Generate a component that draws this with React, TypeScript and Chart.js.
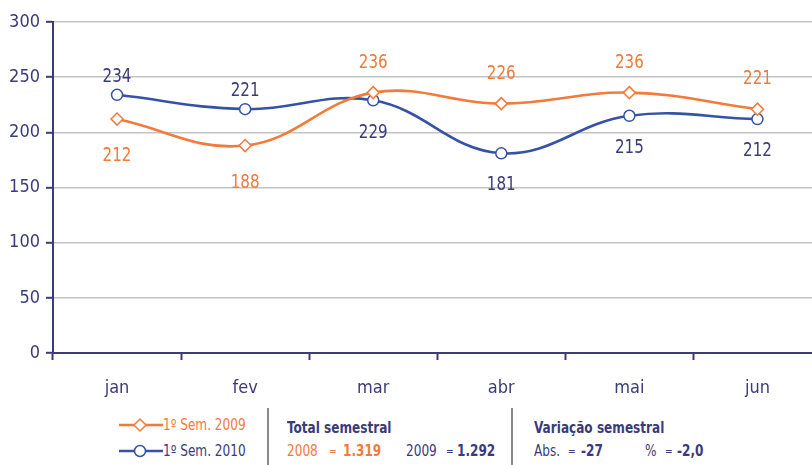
import React, { useEffect, useRef } from "react";
import { Chart, registerables } from "chart.js";

Chart.register(...registerables);

const months = ["jan", "fev", "mar", "abr", "mai", "jun"];
const sem2009 = [212, 188, 236, 226, 236, 221];
const sem2010 = [234, 221, 229, 181, 215, 212];
const yTicks = [0, 50, 100, 150, 200, 250, 300];

const NAVY = "#3b3b7a";
const ORANGE = "#f27a3a";
const BLUE = "#3552a6";
const FONT = "'DejaVu Sans Condensed', 'DejaVu Sans', sans-serif";

const labelPlugin = {
  id: "pointLabels",
  afterDatasetsDraw(chart: any) {
    const ctx = chart.ctx;
    const ds = chart.data.datasets;
    ctx.save();
    ctx.font = `20px ${FONT}`;
    ctx.textAlign = "center";
    ctx.textBaseline = "middle";
    ds.forEach((d: any, di: number) => {
      const meta = chart.getDatasetMeta(di);
      const other = ds[1 - di].data as number[];
      meta.data.forEach((pt: any, i: number) => {
        const v = d.data[i] as number;
        const above = v >= other[i];
        let off: number;
        if (di === 0) off = above ? -30 : 37;
        else off = above ? -18 : 32;
        ctx.save();
        ctx.translate(pt.x, pt.y + off);
        ctx.scale(0.84, 1);
        ctx.fillStyle = d.labelColor;
        ctx.fillText(String(v), 0, 0);
        ctx.restore();
      });
    });
    ctx.restore();
  },
};

function App() {
  const ref = useRef<HTMLCanvasElement | null>(null);
  useEffect(() => {
    if (!ref.current) return;
    const chart = new Chart(ref.current, {
      type: "line",
      data: {
        labels: months,
        datasets: [
          {
            label: "1º Sem. 2009",
            data: sem2009,
            borderColor: ORANGE,
            backgroundColor: "#ffffff",
            borderWidth: 2.6,
            tension: 0.4,
            pointStyle: "rectRot",
            pointRadius: 6,
            pointBorderWidth: 1.5,
            pointBackgroundColor: "#ffffff",
            pointBorderColor: ORANGE,
            labelColor: ORANGE,
          } as any,
          {
            label: "1º Sem. 2010",
            data: sem2010,
            borderColor: BLUE,
            backgroundColor: "#ffffff",
            borderWidth: 2.6,
            tension: 0.4,
            pointStyle: "circle",
            pointRadius: 5.5,
            pointBorderWidth: 1.5,
            pointBackgroundColor: "#ffffff",
            pointBorderColor: BLUE,
            labelColor: NAVY,
          } as any,
        ],
      },
      options: {
        animation: false,
        responsive: false,
        maintainAspectRatio: false,
        layout: { padding: { top: 22, right: 0, bottom: 0, left: 0 } },
        plugins: { legend: { display: false }, tooltip: { enabled: false } },
        scales: {
          x: {
            offset: true,
            grid: {
              offset: true,
              drawOnChartArea: false,
              drawTicks: true,
              tickLength: 7,
              tickColor: NAVY,
              tickWidth: 2,
            },
            border: { color: NAVY, width: 2 },
            ticks: {
              color: NAVY,
              font: { family: FONT, size: 18 },
              padding: 18,
            },
            afterFit(scale: any) {
              scale.height = 52;
              scale.paddingLeft = 0;
              scale.paddingRight = 0;
            },
          },
          y: {
            min: 0,
            max: 300,
            afterBuildTicks(scale: any) {
              scale.ticks = yTicks.map((v) => ({ value: v }));
            },
            grid: {
              color: "#c4c4c4",
              lineWidth: 1.6,
              drawTicks: true,
              tickLength: 7,
              tickColor: NAVY,
              tickWidth: 2,
            },
            border: { color: NAVY, width: 2 },
            ticks: {
              color: NAVY,
              font: { family: FONT, size: 18 },
              padding: 6,
            },
            afterFit(scale: any) {
              scale.width = 53;
            },
          },
        },
      },
      plugins: [labelPlugin],
    });
    return () => chart.destroy();
  }, []);

  const txt: React.CSSProperties = {
    position: "absolute",
    fontFamily: FONT,
    fontSize: 16,
    whiteSpace: "nowrap",
    lineHeight: "18px",
    transform: "scaleX(0.84)",
    transformOrigin: "left center",
  };
  const eq: React.CSSProperties = { ...txt, fontSize: 12 };

  return (
    <div
      style={{
        position: "absolute",
        left: 0,
        top: 0,
        width: 812,
        height: 465,
        overflow: "hidden",
        background: "#ffffff",
      }}
    >
      <canvas ref={ref} width={829} height={405} style={{ position: "absolute", left: 0, top: 0, width: 829, height: 405 }} />
      <svg style={{ position: "absolute", left: 118, top: 416 }} width={46} height={44}>
        <line x1={1} y1={9} x2={45} y2={9} stroke={ORANGE} strokeWidth={2.6} />
        <polygon points="22,3 28,9 22,15 16,9" fill="#fff" stroke={ORANGE} strokeWidth={1.5} />
        <line x1={1} y1={35} x2={45} y2={35} stroke={BLUE} strokeWidth={2.6} />
        <circle cx={22} cy={35} r={5.5} fill="#fff" stroke={BLUE} strokeWidth={1.5} />
      </svg>
      <div style={{ ...txt, left: 163, top: 416, color: ORANGE }}>1º Sem. 2009</div>
      <div style={{ ...txt, left: 163, top: 442, color: NAVY }}>1º Sem. 2010</div>
      <div style={{ position: "absolute", left: 267, top: 408, width: 2, height: 57, background: "#8a8a8a" }} />
      <div style={{ ...txt, left: 287, top: 419, color: NAVY, fontWeight: "bold" }}>Total semestral</div>
      <div style={{ ...txt, left: 287, top: 442, color: ORANGE }}>2008</div>
      <div style={{ ...eq, left: 329, top: 442, color: ORANGE }}>=</div>
      <div style={{ ...txt, left: 343, top: 442, color: ORANGE, fontWeight: "bold" }}>1.319</div>
      <div style={{ ...txt, left: 406, top: 442, color: NAVY }}>2009</div>
      <div style={{ ...eq, left: 446, top: 442, color: NAVY }}>=</div>
      <div style={{ ...txt, left: 457, top: 442, color: NAVY, fontWeight: "bold" }}>1.292</div>
      <div style={{ position: "absolute", left: 511, top: 408, width: 2, height: 57, background: "#8a8a8a" }} />
      <div style={{ ...txt, left: 534, top: 419, color: NAVY, fontWeight: "bold" }}>Variação semestral</div>
      <div style={{ ...txt, left: 534, top: 442, color: NAVY }}>Abs.</div>
      <div style={{ ...eq, left: 568, top: 442, color: NAVY }}>=</div>
      <div style={{ ...txt, left: 581, top: 442, color: NAVY, fontWeight: "bold" }}>-27</div>
      <div style={{ ...txt, left: 645, top: 442, color: NAVY }}>%</div>
      <div style={{ ...eq, left: 665, top: 442, color: NAVY }}>=</div>
      <div style={{ ...txt, left: 677, top: 442, color: NAVY, fontWeight: "bold" }}>-2,0</div>
    </div>
  );
}

export default App;
